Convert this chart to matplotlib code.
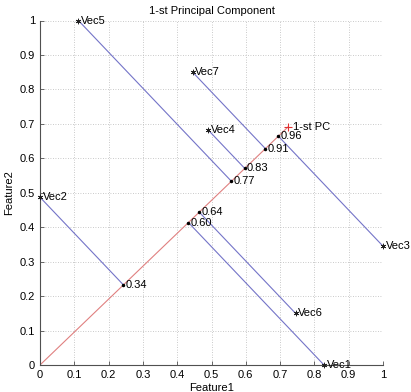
import numpy as np
import matplotlib
matplotlib.use("Agg")
import matplotlib.pyplot as plt

plt.rcParams['font.family'] = ['Liberation Sans', 'DejaVu Sans']

names = ["Vec1", "Vec2", "Vec3", "Vec4", "Vec5", "Vec6", "Vec7"]
feat1 = [0.828, 0.0, 1.0, 0.49, 0.112, 0.745, 0.445]
feat2 = [0.0, 0.487, 0.345, 0.6825, 1.0, 0.15, 0.85]
pc = [0.723, 0.691]
pc_label = "1-st PC"
xticks = [0, 0.1, 0.2, 0.3, 0.4, 0.5, 0.6, 0.7, 0.8, 0.9, 1]
yticks = [0, 0.1, 0.2, 0.3, 0.4, 0.5, 0.6, 0.7, 0.8, 0.9, 1]

fig = plt.figure(figsize=(4.11, 3.92), dpi=100)
ax = fig.add_axes([40/411, 1-365/392, 343/411, 344.5/392])

u = np.array(pc) / np.linalg.norm(pc)
ax.plot([0, pc[0]], [0, pc[1]], color='#e08080', lw=0.8, zorder=2)
ax.plot([pc[0]], [pc[1]], marker='+', color='#e03030', ms=6, mew=0.8, zorder=4)
ax.text(pc[0] + 0.016, pc[1], pc_label, fontsize=8, ha='left', va='center')

for n, x, y in zip(names, feat1, feat2):
    p = np.dot([x, y], u)
    px, py = p * u
    ax.plot([x, px], [y, py], color='#7474c8', lw=0.8, zorder=2)
    ax.plot([x], [y], marker=(6, 2, 0), color='#202020', ms=4, mew=0.5, zorder=4, clip_on=False)
    ax.text(x + 0.008, y, n, fontsize=8, ha='left', va='center', clip_on=False)
    ax.plot([px], [py], marker='.', color='k', ms=3, zorder=4)
    ax.text(px + 0.006, py, "%.2f" % p, fontsize=8, ha='left', va='center')

ax.set_xlim(0, 1)
ax.set_ylim(0, 1)
ax.set_xticks(xticks)
ax.set_yticks(yticks)
ax.set_xticklabels([("%g" % t) for t in xticks])
ax.set_yticklabels([("%g" % t) for t in yticks])
ax.grid(True, linestyle=(0, (1, 2)), color='#b8b8b8', lw=0.6)
ax.spines['top'].set_visible(False)
ax.spines['right'].set_visible(False)
ax.spines['left'].set_color('#505050')
ax.spines['bottom'].set_color('#505050')
ax.tick_params(direction='in', labelsize=8, length=3, width=0.6, color='#505050')
ax.set_xlabel("Feature1", fontsize=8, labelpad=2)
ax.set_ylabel("Feature2", fontsize=8, labelpad=4)
ax.set_title("1-st Principal Component", fontsize=8, pad=5)

fig.savefig("out.png", dpi=100)
